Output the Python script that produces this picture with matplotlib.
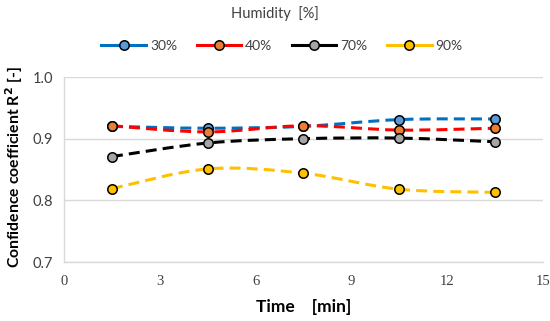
import matplotlib
matplotlib.use("Agg")
import matplotlib.pyplot as plt
from matplotlib.path import Path
from matplotlib.patches import PathPatch
from matplotlib.lines import Line2D
import numpy as np

time = [1.5, 4.5, 7.5, 10.5, 13.5]
series_names = ["30%", "40%", "70%", "90%"]
r2_30 = [0.920, 0.917, 0.920, 0.931, 0.932]
r2_40 = [0.921, 0.911, 0.921, 0.914, 0.917]
r2_70 = [0.871, 0.893, 0.900, 0.901, 0.895]
r2_90 = [0.819, 0.851, 0.844, 0.818, 0.813]
series = [r2_30, r2_40, r2_70, r2_90]
line_colors = ["#0070C0", "#FF0000", "#000000", "#FFC000"]
marker_colors = ["#5B9BD5", "#ED7D31", "#A5A5A5", "#FFC000"]
xticks = [0, 3, 6, 9, 12, 15]
yticks = [0.7, 0.8, 0.9, 1.0]

plt.rcParams["font.serif"] = ["Liberation Serif", "DejaVu Serif"]

fig = plt.figure(figsize=(5.5, 3.21), dpi=100)
ax = fig.add_axes([0.1164, 0.1838, 0.8706, 0.5762])

def smooth_path(x, y):
    pts = np.column_stack([x, y]).astype(float)
    n = len(pts)
    verts = [pts[0]]
    codes = [Path.MOVETO]
    for i in range(n - 1):
        p0 = pts[i - 1] if i > 0 else pts[i]
        p1 = pts[i]
        p2 = pts[i + 1]
        p3 = pts[i + 2] if i + 2 < n else pts[i + 1]
        c1 = p1 + (p2 - p0) / 6.0
        c2 = p2 - (p3 - p1) / 6.0
        verts += [c1, c2, p2]
        codes += [Path.CURVE4] * 3
    return Path(verts, codes)

for ys, lc, mc in zip(series, line_colors, marker_colors):
    patch = PathPatch(smooth_path(time, ys), facecolor="none", edgecolor=lc,
                      lw=2.2, linestyle=(0, (3.6, 2.0)), capstyle="butt", zorder=2)
    ax.add_patch(patch)
for ys, lc, mc in zip(series, line_colors, marker_colors):
    ax.plot(time, ys, linestyle="none", marker="o", ms=6.8, mfc=mc, mec="black",
            mew=1.1, zorder=3)

ax.set_xlim(0, 15)
ax.set_ylim(0.7, 1.0)
ax.set_xticks(xticks)
ax.set_yticks(yticks)
ax.set_xticklabels([str(t) for t in xticks], family="serif", fontsize=10.5)
ax.set_yticklabels([f"{t:.1f}" for t in yticks], family="Lato", fontsize=10.5)
ax.tick_params(length=0, pad=9, colors="#404040")
ax.tick_params(axis="y", pad=8)
ax.grid(axis="y", color="#D9D9D9", lw=1)
ax.set_axisbelow(True)
for s in ["top", "right"]:
    ax.spines[s].set_visible(False)
for s in ["left", "bottom"]:
    ax.spines[s].set_color("#D9D9D9")
    ax.spines[s].set_linewidth(1)

ax.set_xlabel("Time    [min]", fontfamily="Lato", fontweight="bold", fontsize=12.5)
ax.xaxis.set_label_coords(0.5, -0.20)
ax.set_ylabel("Confidence coefficient R$^{\\mathbf{2}}$ [-]", fontfamily="Lato",
              fontweight="bold", fontsize=11.3)
ax.yaxis.set_label_coords(-0.081, 0.51)

fig.text(0.50, 0.958, "Humidity  [%]", ha="center", va="center",
         fontfamily="Lato", fontsize=10.5, color="#404040")

handles = [Line2D([0], [0], color=lc, lw=2.2, marker="o", ms=6.8, mfc=mc,
                  mec="black", mew=1.1) for lc, mc in zip(line_colors, marker_colors)]
leg = fig.legend(handles, series_names, loc="center", bbox_to_anchor=(0.513, 0.858),
                 ncol=4, frameon=False, prop={"family": "Lato", "size": 10},
                 handlelength=3.2, columnspacing=1.4, handletextpad=0.3)
for t in leg.get_texts():
    t.set_color("#404040")

fig.savefig("out.png", dpi=100)
